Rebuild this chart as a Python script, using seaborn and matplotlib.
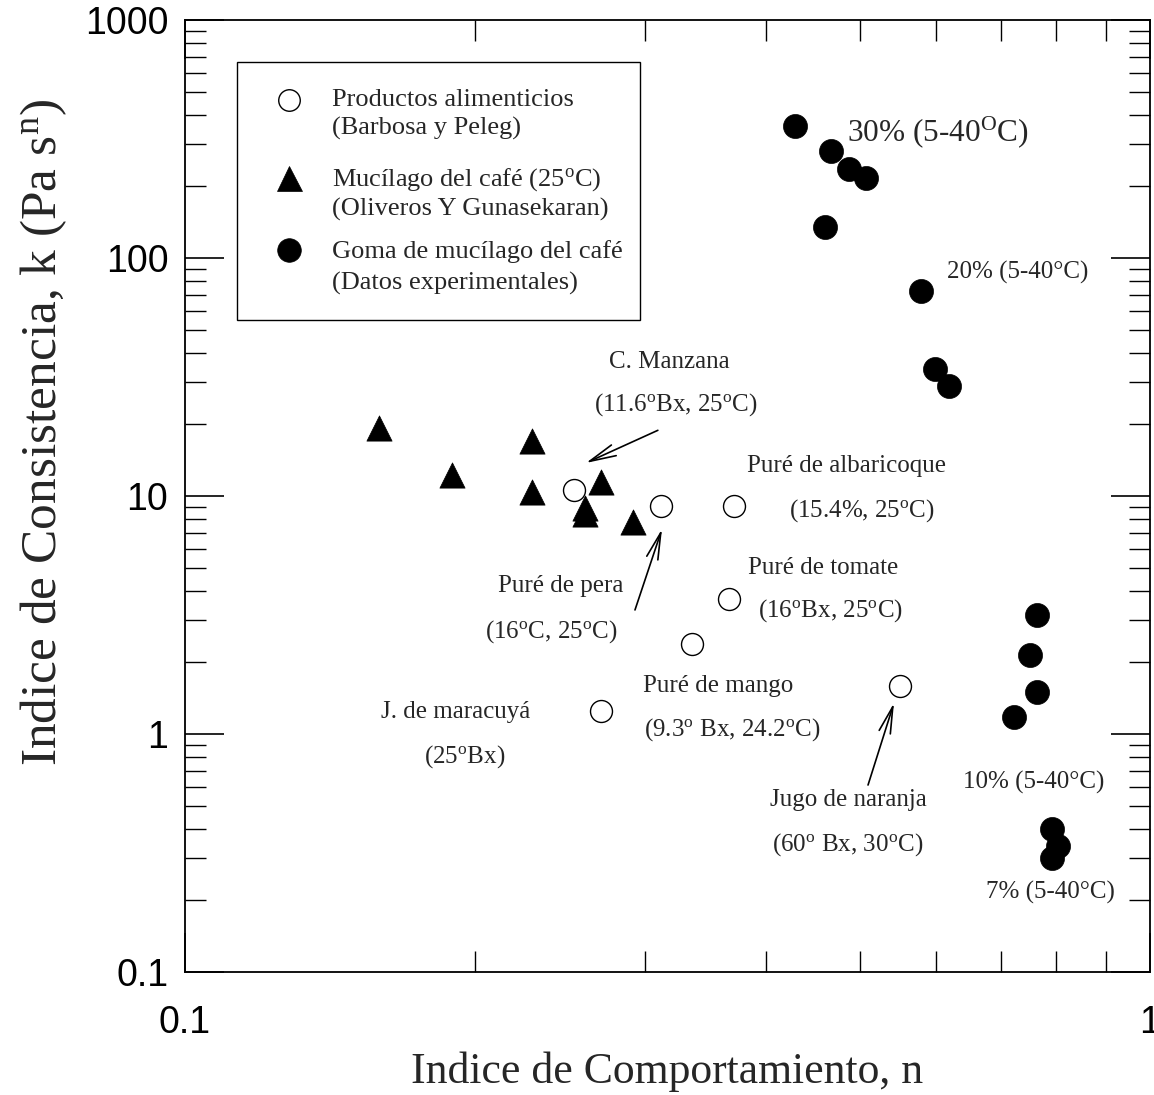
import numpy as np
import pandas as pd
import matplotlib
matplotlib.use("Agg")
import matplotlib.pyplot as plt
import seaborn as sns
from matplotlib.ticker import FixedLocator, FixedFormatter, NullFormatter
from matplotlib.patches import Rectangle
from matplotlib.lines import Line2D

# ---------------- data ----------------
prod_n = [0.253, 0.311, 0.371, 0.366, 0.335, 0.270, 0.551]
prod_k = [10.6, 9.1, 9.1, 3.7, 2.4, 1.25, 1.59]

muc_n = [0.159, 0.189, 0.229, 0.229, 0.270, 0.260, 0.260, 0.291]
muc_k = [19.4, 12.2, 17.1, 10.4, 11.5, 8.9, 8.4, 7.8]

goma_n = [0.429, 0.467, 0.488, 0.508, 0.460, 0.579, 0.599, 0.619,
          0.764, 0.751, 0.764, 0.723, 0.791, 0.803, 0.791]
goma_k = [359, 282, 237, 217, 135, 72.9, 34.3, 29.1,
          3.15, 2.14, 1.50, 1.18, 0.40, 0.34, 0.30]

y_ticks = [0.1, 1, 10, 100, 1000]
y_tick_labels = ["0.1", "1", "10", "100", "1000"]
x_ticks = [0.1, 1]
x_tick_labels = ["0.1", "1"]

legend_labels = [("Productos alimenticios", "(Barbosa y Peleg)"),
                 ("Mucílago del café (25$^{\\rm o}$C)", "(Oliveros Y Gunasekaran)"),
                 ("Goma de mucílago del café", "(Datos experimentales)")]

# ---------------- style ----------------
sns.set_theme(style="ticks")
plt.rcParams["font.family"] = ["Liberation Serif", "DejaVu Serif"]
plt.rcParams["mathtext.fontset"] = "custom"
plt.rcParams["mathtext.rm"] = "Liberation Serif"
plt.rcParams["mathtext.it"] = "Liberation Serif:italic"
plt.rcParams["axes.linewidth"] = 1.3

fig = plt.figure(figsize=(11.54, 10.95), dpi=100)
ax = fig.add_axes([185/1154, 1-972/1095, (1150-185)/1154, (972-20)/1095])
ax.set_xscale("log")
ax.set_yscale("log")
ax.set_xlim(0.1, 1)
ax.set_ylim(0.1, 1000)

df_p = pd.DataFrame({"n": prod_n, "k": prod_k})
df_m = pd.DataFrame({"n": muc_n, "k": muc_k})
df_g = pd.DataFrame({"n": goma_n, "k": goma_k})

sns.scatterplot(data=df_p, x="n", y="k", ax=ax, marker="o", s=250,
                facecolor="white", edgecolor="black", linewidth=1.0, legend=False, zorder=3)
sns.scatterplot(data=df_m, x="n", y="k", ax=ax, marker="^", s=330,
                color="black", edgecolor="black", linewidth=0.5, legend=False, zorder=4)
sns.scatterplot(data=df_g, x="n", y="k", ax=ax, marker="o", s=300,
                color="black", edgecolor="black", linewidth=0.5, legend=False, zorder=4)

# ticks
ax.yaxis.set_major_locator(FixedLocator(y_ticks))
ax.yaxis.set_major_formatter(FixedFormatter(y_tick_labels))
ax.xaxis.set_major_locator(FixedLocator(x_ticks))
ax.xaxis.set_major_formatter(FixedFormatter(x_tick_labels))
minor_y = [m * d for d in [0.1, 1, 10, 100] for m in range(2, 10)]
minor_x = [m * 0.1 for m in range(2, 10)]
ax.yaxis.set_minor_locator(FixedLocator(minor_y))
ax.xaxis.set_minor_locator(FixedLocator(minor_x))
ax.yaxis.set_minor_formatter(NullFormatter())
ax.xaxis.set_minor_formatter(NullFormatter())
ax.tick_params(which="both", direction="in", top=True, right=True, colors="black")
ax.tick_params(which="major", length=28, width=1.2)
ax.tick_params(which="minor", length=15, width=1.0)
ax.tick_params(axis="y", which="major", pad=12)
ax.tick_params(axis="x", which="major", pad=24)
for lab in ax.get_xticklabels() + ax.get_yticklabels():
    lab.set_fontfamily("Liberation Sans")
    lab.set_fontsize(27)
for s in ax.spines.values():
    s.set_color("black")

ax.set_xlabel("Indice de Comportamiento, n", fontsize=31.5, va="center")
ax.xaxis.set_label_coords(0.5, -0.105)
ax.set_ylabel("Indice de Consistencia, k (Pa s$^{\\rm n}$)", fontsize=37, va="center")
ax.yaxis.set_label_coords(-0.146, 0.567)

# ---------------- legend (boxed) ----------------
ax.add_patch(Rectangle((0.0539, 0.6849), 0.4715-0.0539, 0.9559-0.6849,
                       transform=ax.transAxes, facecolor="white",
                       edgecolor="black", linewidth=1.0, zorder=5))
mk_y = [0.9160, 0.8340, 0.7584]
line_y = [(0.916, 0.8866), (0.8319, 0.8015), (0.7563, 0.7237)]
styles = [dict(marker="o", ms=15.5, mfc="white", mec="black", mew=1.0),
          dict(marker="^", ms=18, mfc="black", mec="black", mew=0.5),
          dict(marker="o", ms=17, mfc="black", mec="black", mew=0.5)]
for (l1, l2), my, (y1, y2), st in zip(legend_labels, mk_y, line_y, styles):
    ax.add_line(Line2D([0.1078], [my], transform=ax.transAxes, linestyle="none",
                       zorder=6, **st))
    ax.text(0.1523, y1, l1, transform=ax.transAxes, fontsize=19, va="center",
            ha="left", zorder=6)
    ax.text(0.1523, y2, l2, transform=ax.transAxes, fontsize=19, va="center",
            ha="left", zorder=6)

# ---------------- annotations ----------------
deg = "$^{\\rm o}$"
texts = [
    ("C. Manzana", 0.5016, 0.6408),
    (f"(11.6{deg}Bx, 25{deg}C)", 0.5088, 0.5956),
    ("Puré de albaricoque", 0.686, 0.5315),
    ("(15.4%, 25" + deg + "C)", 0.7016, 0.4842),
    ("Puré de pera", 0.3896, 0.4055),
    (f"(16{deg}C, 25{deg}C)", 0.3793, 0.3571),
    ("Puré de tomate", 0.6611, 0.4244),
    (f"(16{deg}Bx, 25{deg}C)", 0.6694, 0.3792),
    ("Puré de mango", 0.5523, 0.3004),
    (f"(9.3{deg} Bx, 24.2{deg}C)", 0.5668, 0.2542),
    ("J. de maracuyá", 0.2808, 0.2731),
    (f"(25{deg}Bx)", 0.2902, 0.2258),
    ("Jugo de naranja", 0.6870, 0.1807),
    (f"(60{deg} Bx, 30{deg}C)", 0.6870, 0.1334),
    ("20% (5-40°C)", 0.8632, 0.7353),
    ("10% (5-40°C)", 0.8798, 0.1996),
    ("7% (5-40°C)", 0.8964, 0.0840),
]
for t, x, y in texts:
    ax.text(x, y, t, transform=ax.transAxes, fontsize=18, ha="center", va="center")
ax.text(0.7803, 0.8824, "30% (5-40$^{\\rm O}$C)", transform=ax.transAxes,
        fontsize=22.5, ha="center", va="center")

arrows = [((0.490, 0.569), (0.4155, 0.5347)),
          ((0.4663, 0.3803), (0.4943, 0.4653)),
          ((0.7078, 0.1964), (0.7347, 0.2826))]
for tail, tip in arrows:
    ax.annotate("", xy=tip, xytext=tail, xycoords="axes fraction",
                textcoords="axes fraction",
                arrowprops=dict(arrowstyle="->,head_length=1.6,head_width=0.35",
                                color="black", lw=1.2, shrinkA=0, shrinkB=0))

fig.savefig("out.png", dpi=100)
